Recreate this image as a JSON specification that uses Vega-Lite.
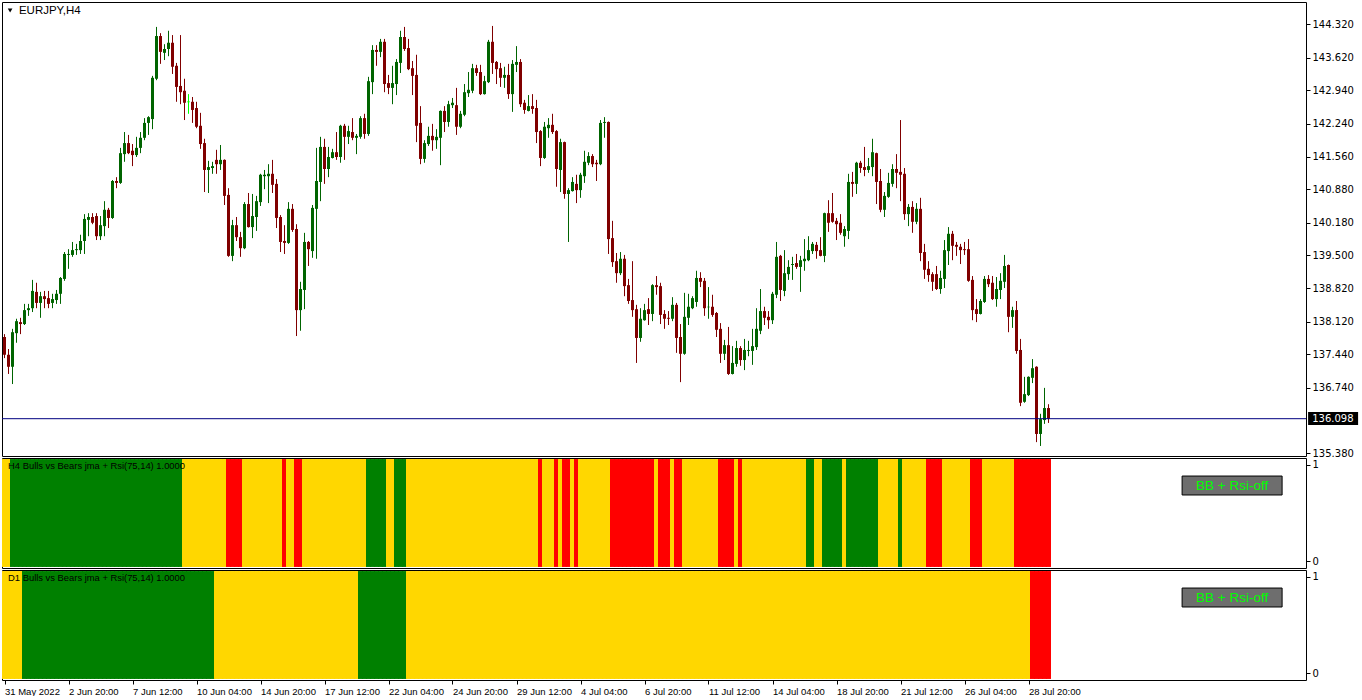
{
  "$schema": "https://vega.github.io/schema/vega-lite/v6.json",
  "background": "white",
  "padding": {"left": 1, "top": 1, "right": 0, "bottom": 0},
  "autosize": {"type": "pad"},
  "bounds": "flush",
  "spacing": 2,
  "config": {
    "view": {"stroke": "#000000", "strokeWidth": 1},
    "axis": {"labelFont": "DejaVu Sans", "labelFontSize": 10, "labelColor": "#000000", "tickColor": "#000000", "domain": false, "grid": false, "title": null, "tickSize": 4, "labelPadding": 2, "labelOverlap": false, "labelBound": false, "labelFlush": false, "tickCount": 40}
  },
  "data": {"values": [
{"i":0,"o":137.80,"h":137.86,"l":137.36,"c":137.43,"h4":"flat","d1":"flat"},
{"i":1,"o":137.43,"h":137.55,"l":137.03,"c":137.18,"h4":"flat","d1":"flat"},
{"i":2,"o":137.18,"h":137.97,"l":136.82,"c":137.90,"h4":"bull","d1":"flat"},
{"i":3,"o":137.88,"h":138.18,"l":137.68,"c":138.13,"h4":"bull","d1":"flat"},
{"i":4,"o":138.11,"h":138.20,"l":137.86,"c":138.07,"h4":"bull","d1":"flat"},
{"i":5,"o":138.07,"h":138.49,"l":138.05,"c":138.36,"h4":"bull","d1":"bull"},
{"i":6,"o":138.36,"h":138.49,"l":138.24,"c":138.40,"h4":"bull","d1":"bull"},
{"i":7,"o":138.40,"h":138.99,"l":138.32,"c":138.76,"h4":"bull","d1":"bull"},
{"i":8,"o":138.74,"h":138.93,"l":138.40,"c":138.51,"h4":"bull","d1":"bull"},
{"i":9,"o":138.51,"h":138.74,"l":138.20,"c":138.65,"h4":"bull","d1":"bull"},
{"i":10,"o":138.65,"h":138.76,"l":138.40,"c":138.59,"h4":"bull","d1":"bull"},
{"i":11,"o":138.61,"h":138.76,"l":138.40,"c":138.49,"h4":"bull","d1":"bull"},
{"i":12,"o":138.51,"h":138.70,"l":138.40,"c":138.59,"h4":"bull","d1":"bull"},
{"i":13,"o":138.57,"h":138.78,"l":138.49,"c":138.70,"h4":"bull","d1":"bull"},
{"i":14,"o":138.70,"h":139.05,"l":138.49,"c":139.03,"h4":"bull","d1":"bull"},
{"i":15,"o":139.01,"h":139.57,"l":138.97,"c":139.53,"h4":"bull","d1":"bull"},
{"i":16,"o":139.51,"h":139.63,"l":139.22,"c":139.53,"h4":"bull","d1":"bull"},
{"i":17,"o":139.51,"h":139.78,"l":139.47,"c":139.61,"h4":"bull","d1":"bull"},
{"i":18,"o":139.61,"h":139.74,"l":139.51,"c":139.63,"h4":"bull","d1":"bull"},
{"i":19,"o":139.61,"h":139.93,"l":139.53,"c":139.80,"h4":"bull","d1":"bull"},
{"i":20,"o":139.80,"h":140.36,"l":139.53,"c":140.26,"h4":"bull","d1":"bull"},
{"i":21,"o":140.24,"h":140.38,"l":139.90,"c":140.30,"h4":"bull","d1":"bull"},
{"i":22,"o":140.30,"h":140.38,"l":140.15,"c":140.18,"h4":"bull","d1":"bull"},
{"i":23,"o":140.32,"h":140.38,"l":139.82,"c":139.90,"h4":"bull","d1":"bull"},
{"i":24,"o":139.90,"h":140.32,"l":139.82,"c":140.13,"h4":"bull","d1":"bull"},
{"i":25,"o":140.11,"h":140.63,"l":139.90,"c":140.45,"h4":"bull","d1":"bull"},
{"i":26,"o":140.45,"h":140.49,"l":140.07,"c":140.28,"h4":"bull","d1":"bull"},
{"i":27,"o":140.28,"h":141.07,"l":140.26,"c":141.05,"h4":"bull","d1":"bull"},
{"i":28,"o":141.05,"h":141.13,"l":140.90,"c":141.01,"h4":"bull","d1":"bull"},
{"i":29,"o":141.01,"h":141.74,"l":140.99,"c":141.63,"h4":"bull","d1":"bull"},
{"i":30,"o":141.61,"h":142.07,"l":141.45,"c":141.84,"h4":"bull","d1":"bull"},
{"i":31,"o":141.84,"h":142.01,"l":141.61,"c":141.63,"h4":"bull","d1":"bull"},
{"i":32,"o":141.68,"h":141.82,"l":141.36,"c":141.59,"h4":"bull","d1":"bull"},
{"i":33,"o":141.59,"h":141.97,"l":141.55,"c":141.74,"h4":"bull","d1":"bull"},
{"i":34,"o":141.74,"h":142.07,"l":141.63,"c":141.95,"h4":"bull","d1":"bull"},
{"i":35,"o":141.95,"h":142.36,"l":141.90,"c":142.26,"h4":"bull","d1":"bull"},
{"i":36,"o":142.26,"h":142.40,"l":142.01,"c":142.38,"h4":"bull","d1":"bull"},
{"i":37,"o":142.34,"h":143.24,"l":142.13,"c":143.20,"h4":"bull","d1":"bull"},
{"i":38,"o":143.18,"h":144.26,"l":143.15,"c":144.07,"h4":"bull","d1":"bull"},
{"i":39,"o":144.07,"h":144.13,"l":143.49,"c":143.74,"h4":"bull","d1":"bull"},
{"i":40,"o":143.72,"h":143.90,"l":143.57,"c":143.80,"h4":"bull","d1":"bull"},
{"i":41,"o":143.80,"h":144.18,"l":143.65,"c":143.93,"h4":"bull","d1":"bull"},
{"i":42,"o":143.93,"h":144.09,"l":143.28,"c":143.43,"h4":"bull","d1":"bull"},
{"i":43,"o":143.45,"h":143.51,"l":142.70,"c":143.01,"h4":"bull","d1":"bull"},
{"i":44,"o":143.03,"h":144.09,"l":142.65,"c":142.90,"h4":"bull","d1":"bull"},
{"i":45,"o":142.93,"h":143.18,"l":142.32,"c":142.68,"h4":"flat","d1":"bull"},
{"i":46,"o":142.70,"h":142.86,"l":142.45,"c":142.70,"h4":"flat","d1":"bull"},
{"i":47,"o":142.70,"h":142.80,"l":142.26,"c":142.53,"h4":"flat","d1":"bull"},
{"i":48,"o":142.57,"h":142.70,"l":142.15,"c":142.18,"h4":"flat","d1":"bull"},
{"i":49,"o":142.20,"h":142.47,"l":141.72,"c":141.82,"h4":"flat","d1":"bull"},
{"i":50,"o":141.84,"h":141.93,"l":140.82,"c":141.28,"h4":"flat","d1":"bull"},
{"i":51,"o":141.28,"h":141.47,"l":140.80,"c":141.34,"h4":"flat","d1":"bull"},
{"i":52,"o":141.32,"h":141.45,"l":141.20,"c":141.36,"h4":"flat","d1":"bull"},
{"i":53,"o":141.49,"h":141.70,"l":141.20,"c":141.40,"h4":"flat","d1":"flat"},
{"i":54,"o":141.40,"h":141.80,"l":141.28,"c":141.49,"h4":"flat","d1":"flat"},
{"i":55,"o":141.49,"h":141.50,"l":140.55,"c":140.74,"h4":"flat","d1":"flat"},
{"i":56,"o":140.76,"h":140.90,"l":139.47,"c":139.49,"h4":"bear","d1":"flat"},
{"i":57,"o":139.49,"h":140.24,"l":139.38,"c":140.13,"h4":"bear","d1":"flat"},
{"i":58,"o":140.13,"h":140.30,"l":139.80,"c":139.88,"h4":"bear","d1":"flat"},
{"i":59,"o":139.88,"h":139.99,"l":139.47,"c":139.65,"h4":"bear","d1":"flat"},
{"i":60,"o":139.65,"h":140.61,"l":139.63,"c":140.57,"h4":"flat","d1":"flat"},
{"i":61,"o":140.57,"h":140.80,"l":140.08,"c":140.09,"h4":"flat","d1":"flat"},
{"i":62,"o":140.09,"h":140.78,"l":139.86,"c":140.32,"h4":"flat","d1":"flat"},
{"i":63,"o":140.30,"h":140.74,"l":140.01,"c":140.63,"h4":"flat","d1":"flat"},
{"i":64,"o":140.61,"h":141.20,"l":140.53,"c":141.18,"h4":"flat","d1":"flat"},
{"i":65,"o":141.15,"h":141.28,"l":140.88,"c":141.18,"h4":"flat","d1":"flat"},
{"i":66,"o":141.15,"h":141.40,"l":140.59,"c":141.20,"h4":"flat","d1":"flat"},
{"i":67,"o":141.20,"h":141.49,"l":140.80,"c":140.97,"h4":"flat","d1":"flat"},
{"i":68,"o":140.99,"h":141.09,"l":140.07,"c":140.28,"h4":"flat","d1":"flat"},
{"i":69,"o":140.30,"h":140.34,"l":139.57,"c":139.78,"h4":"flat","d1":"flat"},
{"i":70,"o":139.80,"h":140.13,"l":139.53,"c":139.76,"h4":"bear","d1":"flat"},
{"i":71,"o":139.76,"h":140.61,"l":139.74,"c":140.47,"h4":"flat","d1":"flat"},
{"i":72,"o":140.47,"h":140.57,"l":139.99,"c":140.03,"h4":"flat","d1":"flat"},
{"i":73,"o":140.05,"h":140.15,"l":137.82,"c":138.36,"h4":"bear","d1":"flat"},
{"i":74,"o":138.36,"h":138.95,"l":137.93,"c":138.80,"h4":"bear","d1":"flat"},
{"i":75,"o":138.78,"h":139.97,"l":138.38,"c":139.78,"h4":"flat","d1":"flat"},
{"i":76,"o":139.78,"h":139.80,"l":139.28,"c":139.63,"h4":"flat","d1":"flat"},
{"i":77,"o":139.59,"h":140.55,"l":139.45,"c":140.49,"h4":"flat","d1":"flat"},
{"i":78,"o":140.47,"h":141.74,"l":139.43,"c":141.05,"h4":"flat","d1":"flat"},
{"i":79,"o":141.03,"h":141.97,"l":140.63,"c":141.76,"h4":"flat","d1":"flat"},
{"i":80,"o":141.76,"h":141.93,"l":140.99,"c":141.30,"h4":"flat","d1":"flat"},
{"i":81,"o":141.30,"h":141.76,"l":141.13,"c":141.55,"h4":"flat","d1":"flat"},
{"i":82,"o":141.53,"h":141.72,"l":141.52,"c":141.65,"h4":"flat","d1":"flat"},
{"i":83,"o":141.65,"h":142.07,"l":141.49,"c":141.55,"h4":"flat","d1":"flat"},
{"i":84,"o":141.55,"h":142.22,"l":141.43,"c":142.20,"h4":"flat","d1":"flat"},
{"i":85,"o":142.20,"h":142.24,"l":141.49,"c":141.97,"h4":"flat","d1":"flat"},
{"i":86,"o":141.97,"h":142.20,"l":141.82,"c":142.09,"h4":"flat","d1":"flat"},
{"i":87,"o":142.07,"h":142.36,"l":141.90,"c":141.95,"h4":"flat","d1":"flat"},
{"i":88,"o":141.95,"h":142.03,"l":141.61,"c":141.99,"h4":"flat","d1":"flat"},
{"i":89,"o":141.97,"h":142.40,"l":141.93,"c":142.36,"h4":"flat","d1":"bull"},
{"i":90,"o":142.36,"h":142.45,"l":141.93,"c":142.03,"h4":"flat","d1":"bull"},
{"i":91,"o":142.03,"h":143.22,"l":141.99,"c":143.13,"h4":"bull","d1":"bull"},
{"i":92,"o":143.11,"h":143.88,"l":142.86,"c":143.78,"h4":"bull","d1":"bull"},
{"i":93,"o":143.78,"h":143.88,"l":143.45,"c":143.74,"h4":"bull","d1":"bull"},
{"i":94,"o":143.74,"h":144.01,"l":143.63,"c":143.95,"h4":"bull","d1":"bull"},
{"i":95,"o":143.95,"h":144.01,"l":142.90,"c":143.07,"h4":"bull","d1":"bull"},
{"i":96,"o":143.09,"h":143.26,"l":142.86,"c":142.99,"h4":"flat","d1":"bull"},
{"i":97,"o":142.99,"h":143.45,"l":142.65,"c":143.09,"h4":"flat","d1":"bull"},
{"i":98,"o":143.07,"h":143.59,"l":142.84,"c":143.53,"h4":"bull","d1":"bull"},
{"i":99,"o":143.51,"h":144.18,"l":143.30,"c":144.05,"h4":"bull","d1":"bull"},
{"i":100,"o":144.05,"h":144.26,"l":143.76,"c":143.80,"h4":"bull","d1":"bull"},
{"i":101,"o":143.82,"h":144.01,"l":143.36,"c":143.38,"h4":"flat","d1":"flat"},
{"i":102,"o":143.40,"h":143.55,"l":142.84,"c":143.24,"h4":"flat","d1":"flat"},
{"i":103,"o":143.26,"h":143.68,"l":141.86,"c":142.20,"h4":"flat","d1":"flat"},
{"i":104,"o":142.26,"h":142.61,"l":141.40,"c":141.51,"h4":"flat","d1":"flat"},
{"i":105,"o":141.51,"h":141.90,"l":141.43,"c":141.84,"h4":"flat","d1":"flat"},
{"i":106,"o":141.82,"h":142.18,"l":141.78,"c":141.99,"h4":"flat","d1":"flat"},
{"i":107,"o":141.99,"h":142.24,"l":141.68,"c":141.90,"h4":"flat","d1":"flat"},
{"i":108,"o":141.90,"h":142.13,"l":141.72,"c":141.97,"h4":"flat","d1":"flat"},
{"i":109,"o":141.95,"h":142.52,"l":141.38,"c":142.51,"h4":"flat","d1":"flat"},
{"i":110,"o":142.51,"h":142.61,"l":142.07,"c":142.28,"h4":"flat","d1":"flat"},
{"i":111,"o":142.28,"h":142.72,"l":142.18,"c":142.65,"h4":"flat","d1":"flat"},
{"i":112,"o":142.63,"h":142.78,"l":142.57,"c":142.68,"h4":"flat","d1":"flat"},
{"i":113,"o":142.63,"h":142.99,"l":142.01,"c":142.18,"h4":"flat","d1":"flat"},
{"i":114,"o":142.18,"h":142.51,"l":142.15,"c":142.45,"h4":"flat","d1":"flat"},
{"i":115,"o":142.43,"h":143.07,"l":142.40,"c":142.90,"h4":"flat","d1":"flat"},
{"i":116,"o":142.88,"h":143.32,"l":142.80,"c":142.95,"h4":"flat","d1":"flat"},
{"i":117,"o":142.93,"h":143.49,"l":142.88,"c":143.40,"h4":"flat","d1":"flat"},
{"i":118,"o":143.40,"h":143.47,"l":143.24,"c":143.30,"h4":"flat","d1":"flat"},
{"i":119,"o":143.32,"h":143.47,"l":142.84,"c":142.86,"h4":"flat","d1":"flat"},
{"i":120,"o":142.86,"h":143.24,"l":142.85,"c":143.13,"h4":"flat","d1":"flat"},
{"i":121,"o":143.11,"h":143.99,"l":143.09,"c":143.95,"h4":"flat","d1":"flat"},
{"i":122,"o":143.95,"h":144.28,"l":143.28,"c":143.51,"h4":"flat","d1":"flat"},
{"i":123,"o":143.53,"h":143.55,"l":143.07,"c":143.38,"h4":"flat","d1":"flat"},
{"i":124,"o":143.40,"h":143.51,"l":143.01,"c":143.20,"h4":"flat","d1":"flat"},
{"i":125,"o":143.20,"h":143.43,"l":142.99,"c":143.26,"h4":"flat","d1":"flat"},
{"i":126,"o":143.26,"h":143.49,"l":142.76,"c":142.86,"h4":"flat","d1":"flat"},
{"i":127,"o":142.86,"h":143.57,"l":142.49,"c":143.49,"h4":"flat","d1":"flat"},
{"i":128,"o":143.47,"h":143.86,"l":143.32,"c":143.53,"h4":"flat","d1":"flat"},
{"i":129,"o":143.53,"h":143.59,"l":142.59,"c":142.65,"h4":"flat","d1":"flat"},
{"i":130,"o":142.68,"h":142.74,"l":142.45,"c":142.53,"h4":"flat","d1":"flat"},
{"i":131,"o":142.51,"h":142.84,"l":142.50,"c":142.61,"h4":"flat","d1":"flat"},
{"i":132,"o":142.61,"h":142.86,"l":142.45,"c":142.55,"h4":"flat","d1":"flat"},
{"i":133,"o":142.57,"h":142.74,"l":141.84,"c":142.07,"h4":"flat","d1":"flat"},
{"i":134,"o":142.09,"h":142.11,"l":141.36,"c":141.53,"h4":"bear","d1":"flat"},
{"i":135,"o":141.53,"h":142.28,"l":141.51,"c":142.18,"h4":"flat","d1":"flat"},
{"i":136,"o":142.15,"h":142.36,"l":141.95,"c":142.22,"h4":"flat","d1":"flat"},
{"i":137,"o":142.22,"h":142.45,"l":142.03,"c":142.07,"h4":"flat","d1":"flat"},
{"i":138,"o":142.09,"h":142.11,"l":140.93,"c":141.30,"h4":"bear","d1":"flat"},
{"i":139,"o":141.28,"h":141.93,"l":140.82,"c":141.86,"h4":"flat","d1":"flat"},
{"i":140,"o":141.86,"h":141.87,"l":140.68,"c":140.78,"h4":"bear","d1":"flat"},
{"i":141,"o":140.78,"h":140.90,"l":139.78,"c":140.86,"h4":"bear","d1":"flat"},
{"i":142,"o":140.84,"h":141.13,"l":140.83,"c":141.03,"h4":"flat","d1":"flat"},
{"i":143,"o":140.99,"h":141.18,"l":140.59,"c":140.86,"h4":"bear","d1":"flat"},
{"i":144,"o":140.86,"h":141.22,"l":140.70,"c":141.18,"h4":"flat","d1":"flat"},
{"i":145,"o":141.15,"h":141.68,"l":141.01,"c":141.45,"h4":"flat","d1":"flat"},
{"i":146,"o":141.43,"h":141.65,"l":141.38,"c":141.57,"h4":"flat","d1":"flat"},
{"i":147,"o":141.57,"h":141.61,"l":141.34,"c":141.40,"h4":"flat","d1":"flat"},
{"i":148,"o":141.43,"h":141.49,"l":141.05,"c":141.40,"h4":"flat","d1":"flat"},
{"i":149,"o":141.40,"h":142.32,"l":141.38,"c":142.26,"h4":"flat","d1":"flat"},
{"i":150,"o":142.26,"h":142.38,"l":141.95,"c":142.28,"h4":"flat","d1":"flat"},
{"i":151,"o":142.28,"h":142.29,"l":139.53,"c":139.84,"h4":"flat","d1":"flat"},
{"i":152,"o":139.86,"h":140.22,"l":139.26,"c":139.36,"h4":"bear","d1":"flat"},
{"i":153,"o":139.38,"h":139.55,"l":138.93,"c":139.13,"h4":"bear","d1":"flat"},
{"i":154,"o":139.13,"h":139.57,"l":139.09,"c":139.43,"h4":"bear","d1":"flat"},
{"i":155,"o":139.43,"h":139.51,"l":138.65,"c":138.86,"h4":"bear","d1":"flat"},
{"i":156,"o":138.88,"h":139.01,"l":138.49,"c":138.55,"h4":"bear","d1":"flat"},
{"i":157,"o":138.57,"h":139.38,"l":138.22,"c":138.36,"h4":"bear","d1":"flat"},
{"i":158,"o":138.38,"h":138.47,"l":137.26,"c":137.78,"h4":"bear","d1":"flat"},
{"i":159,"o":137.78,"h":138.40,"l":137.70,"c":138.18,"h4":"bear","d1":"flat"},
{"i":160,"o":138.15,"h":138.49,"l":138.14,"c":138.36,"h4":"bear","d1":"flat"},
{"i":161,"o":138.38,"h":138.61,"l":138.05,"c":138.28,"h4":"bear","d1":"flat"},
{"i":162,"o":138.28,"h":138.90,"l":138.13,"c":138.88,"h4":"bear","d1":"flat"},
{"i":163,"o":138.88,"h":139.07,"l":138.68,"c":138.84,"h4":"flat","d1":"flat"},
{"i":164,"o":138.86,"h":138.93,"l":138.07,"c":138.26,"h4":"bear","d1":"flat"},
{"i":165,"o":138.28,"h":138.36,"l":137.97,"c":138.18,"h4":"bear","d1":"flat"},
{"i":166,"o":138.20,"h":138.34,"l":138.05,"c":138.18,"h4":"bear","d1":"flat"},
{"i":167,"o":138.18,"h":138.63,"l":138.13,"c":138.47,"h4":"flat","d1":"flat"},
{"i":168,"o":138.47,"h":138.51,"l":137.47,"c":137.78,"h4":"bear","d1":"flat"},
{"i":169,"o":137.80,"h":138.07,"l":136.86,"c":137.45,"h4":"bear","d1":"flat"},
{"i":170,"o":137.45,"h":138.72,"l":137.43,"c":138.22,"h4":"flat","d1":"flat"},
{"i":171,"o":138.20,"h":138.70,"l":138.05,"c":138.43,"h4":"flat","d1":"flat"},
{"i":172,"o":138.40,"h":138.65,"l":138.38,"c":138.61,"h4":"flat","d1":"flat"},
{"i":173,"o":138.53,"h":139.18,"l":138.43,"c":139.03,"h4":"flat","d1":"flat"},
{"i":174,"o":139.03,"h":139.15,"l":138.84,"c":138.95,"h4":"flat","d1":"flat"},
{"i":175,"o":138.97,"h":139.03,"l":138.24,"c":138.40,"h4":"flat","d1":"flat"},
{"i":176,"o":138.42,"h":138.84,"l":138.18,"c":138.43,"h4":"flat","d1":"flat"},
{"i":177,"o":138.43,"h":138.68,"l":138.22,"c":138.26,"h4":"flat","d1":"flat"},
{"i":178,"o":138.30,"h":138.32,"l":137.80,"c":137.95,"h4":"flat","d1":"flat"},
{"i":179,"o":137.97,"h":138.09,"l":137.26,"c":137.45,"h4":"bear","d1":"flat"},
{"i":180,"o":137.45,"h":137.74,"l":137.32,"c":137.63,"h4":"bear","d1":"flat"},
{"i":181,"o":137.63,"h":138.01,"l":137.01,"c":137.03,"h4":"bear","d1":"flat"},
{"i":182,"o":137.03,"h":137.61,"l":137.02,"c":137.26,"h4":"bear","d1":"flat"},
{"i":183,"o":137.24,"h":137.72,"l":137.18,"c":137.57,"h4":"flat","d1":"flat"},
{"i":184,"o":137.57,"h":137.61,"l":137.20,"c":137.32,"h4":"bear","d1":"flat"},
{"i":185,"o":137.32,"h":137.76,"l":137.11,"c":137.53,"h4":"flat","d1":"flat"},
{"i":186,"o":137.51,"h":137.72,"l":137.40,"c":137.53,"h4":"flat","d1":"flat"},
{"i":187,"o":137.51,"h":137.97,"l":137.22,"c":137.61,"h4":"flat","d1":"flat"},
{"i":188,"o":137.59,"h":138.40,"l":137.53,"c":137.97,"h4":"flat","d1":"flat"},
{"i":189,"o":137.93,"h":138.80,"l":137.86,"c":138.34,"h4":"flat","d1":"flat"},
{"i":190,"o":138.34,"h":138.43,"l":138.05,"c":138.20,"h4":"flat","d1":"flat"},
{"i":191,"o":138.22,"h":138.34,"l":137.97,"c":138.15,"h4":"flat","d1":"flat"},
{"i":192,"o":138.15,"h":138.74,"l":138.07,"c":138.70,"h4":"flat","d1":"flat"},
{"i":193,"o":138.68,"h":139.78,"l":138.61,"c":139.47,"h4":"flat","d1":"flat"},
{"i":194,"o":139.49,"h":139.51,"l":138.55,"c":138.78,"h4":"flat","d1":"flat"},
{"i":195,"o":138.76,"h":139.61,"l":138.65,"c":139.13,"h4":"flat","d1":"flat"},
{"i":196,"o":139.11,"h":139.40,"l":138.99,"c":139.26,"h4":"flat","d1":"flat"},
{"i":197,"o":139.30,"h":139.47,"l":138.99,"c":139.32,"h4":"flat","d1":"flat"},
{"i":198,"o":139.34,"h":139.53,"l":139.22,"c":139.26,"h4":"flat","d1":"flat"},
{"i":199,"o":139.26,"h":139.49,"l":138.74,"c":139.40,"h4":"flat","d1":"flat"},
{"i":200,"o":139.38,"h":139.84,"l":139.18,"c":139.43,"h4":"flat","d1":"flat"},
{"i":201,"o":139.40,"h":139.90,"l":139.38,"c":139.61,"h4":"bull","d1":"flat"},
{"i":202,"o":139.59,"h":139.78,"l":139.53,"c":139.74,"h4":"bull","d1":"flat"},
{"i":203,"o":139.72,"h":139.78,"l":139.43,"c":139.59,"h4":"flat","d1":"flat"},
{"i":204,"o":139.61,"h":139.88,"l":139.48,"c":139.49,"h4":"flat","d1":"flat"},
{"i":205,"o":139.49,"h":140.39,"l":139.36,"c":140.38,"h4":"bull","d1":"flat"},
{"i":206,"o":140.38,"h":140.65,"l":139.99,"c":140.18,"h4":"bull","d1":"flat"},
{"i":207,"o":140.38,"h":140.80,"l":140.18,"c":140.20,"h4":"bull","d1":"flat"},
{"i":208,"o":140.22,"h":140.28,"l":139.82,"c":140.15,"h4":"bull","d1":"flat"},
{"i":209,"o":140.18,"h":140.36,"l":139.93,"c":139.97,"h4":"bull","d1":"flat"},
{"i":210,"o":139.90,"h":140.11,"l":139.68,"c":140.05,"h4":"flat","d1":"flat"},
{"i":211,"o":140.01,"h":141.20,"l":139.84,"c":141.03,"h4":"bull","d1":"flat"},
{"i":212,"o":141.03,"h":141.24,"l":140.72,"c":140.99,"h4":"bull","d1":"flat"},
{"i":213,"o":140.99,"h":141.45,"l":140.78,"c":141.43,"h4":"bull","d1":"flat"},
{"i":214,"o":141.43,"h":141.47,"l":141.22,"c":141.32,"h4":"bull","d1":"flat"},
{"i":215,"o":141.34,"h":141.76,"l":141.15,"c":141.28,"h4":"bull","d1":"flat"},
{"i":216,"o":141.28,"h":141.53,"l":141.22,"c":141.36,"h4":"bull","d1":"flat"},
{"i":217,"o":141.34,"h":141.93,"l":141.15,"c":141.65,"h4":"bull","d1":"flat"},
{"i":218,"o":141.63,"h":141.64,"l":140.57,"c":141.03,"h4":"bull","d1":"flat"},
{"i":219,"o":141.05,"h":141.30,"l":140.40,"c":140.45,"h4":"flat","d1":"flat"},
{"i":220,"o":140.45,"h":140.82,"l":140.30,"c":140.74,"h4":"flat","d1":"flat"},
{"i":221,"o":140.72,"h":141.22,"l":140.70,"c":141.01,"h4":"flat","d1":"flat"},
{"i":222,"o":140.99,"h":141.40,"l":140.93,"c":141.30,"h4":"flat","d1":"flat"},
{"i":223,"o":141.30,"h":141.61,"l":140.90,"c":141.22,"h4":"flat","d1":"flat"},
{"i":224,"o":141.24,"h":142.32,"l":140.63,"c":141.18,"h4":"bull","d1":"flat"},
{"i":225,"o":141.20,"h":141.32,"l":140.24,"c":140.36,"h4":"flat","d1":"flat"},
{"i":226,"o":140.36,"h":140.57,"l":140.11,"c":140.51,"h4":"flat","d1":"flat"},
{"i":227,"o":140.51,"h":140.63,"l":139.97,"c":140.20,"h4":"flat","d1":"flat"},
{"i":228,"o":140.20,"h":140.59,"l":140.15,"c":140.47,"h4":"flat","d1":"flat"},
{"i":229,"o":140.47,"h":140.70,"l":139.38,"c":139.55,"h4":"flat","d1":"flat"},
{"i":230,"o":139.57,"h":139.74,"l":139.01,"c":139.20,"h4":"flat","d1":"flat"},
{"i":231,"o":139.22,"h":139.38,"l":138.95,"c":139.09,"h4":"bear","d1":"flat"},
{"i":232,"o":139.11,"h":139.15,"l":138.76,"c":138.95,"h4":"bear","d1":"flat"},
{"i":233,"o":139.11,"h":139.28,"l":138.78,"c":138.80,"h4":"bear","d1":"flat"},
{"i":234,"o":138.80,"h":139.18,"l":138.70,"c":139.03,"h4":"bear","d1":"flat"},
{"i":235,"o":139.01,"h":139.82,"l":138.82,"c":139.61,"h4":"flat","d1":"flat"},
{"i":236,"o":139.59,"h":140.09,"l":139.30,"c":139.95,"h4":"flat","d1":"flat"},
{"i":237,"o":139.95,"h":140.01,"l":139.40,"c":139.70,"h4":"flat","d1":"flat"},
{"i":238,"o":139.72,"h":139.78,"l":139.49,"c":139.68,"h4":"flat","d1":"flat"},
{"i":239,"o":139.68,"h":139.74,"l":139.32,"c":139.61,"h4":"flat","d1":"flat"},
{"i":240,"o":139.63,"h":139.78,"l":139.51,"c":139.61,"h4":"flat","d1":"flat"},
{"i":241,"o":139.63,"h":139.84,"l":138.95,"c":138.97,"h4":"flat","d1":"flat"},
{"i":242,"o":138.99,"h":139.07,"l":138.15,"c":138.36,"h4":"bear","d1":"flat"},
{"i":243,"o":138.38,"h":138.59,"l":138.11,"c":138.28,"h4":"bear","d1":"flat"},
{"i":244,"o":138.28,"h":138.59,"l":138.27,"c":138.55,"h4":"bear","d1":"flat"},
{"i":245,"o":138.53,"h":139.07,"l":138.51,"c":139.01,"h4":"flat","d1":"flat"},
{"i":246,"o":139.01,"h":139.09,"l":138.84,"c":138.90,"h4":"flat","d1":"flat"},
{"i":247,"o":138.93,"h":139.07,"l":138.57,"c":138.59,"h4":"flat","d1":"flat"},
{"i":248,"o":138.59,"h":139.05,"l":138.43,"c":138.80,"h4":"flat","d1":"flat"},
{"i":249,"o":138.78,"h":139.13,"l":138.59,"c":138.97,"h4":"flat","d1":"flat"},
{"i":250,"o":138.95,"h":139.51,"l":138.82,"c":139.28,"h4":"flat","d1":"flat"},
{"i":251,"o":139.30,"h":139.31,"l":137.90,"c":138.22,"h4":"flat","d1":"flat"},
{"i":252,"o":138.22,"h":138.43,"l":137.99,"c":138.36,"h4":"flat","d1":"flat"},
{"i":253,"o":138.36,"h":138.55,"l":137.45,"c":137.51,"h4":"bear","d1":"flat"},
{"i":254,"o":137.53,"h":137.76,"l":136.36,"c":136.43,"h4":"bear","d1":"flat"},
{"i":255,"o":136.45,"h":136.97,"l":136.43,"c":136.61,"h4":"bear","d1":"flat"},
{"i":256,"o":136.59,"h":136.98,"l":136.57,"c":136.97,"h4":"bear","d1":"flat"},
{"i":257,"o":136.95,"h":137.34,"l":136.84,"c":137.15,"h4":"bear","d1":"bear"},
{"i":258,"o":137.18,"h":137.19,"l":135.61,"c":135.78,"h4":"bear","d1":"bear"},
{"i":259,"o":135.78,"h":136.20,"l":135.53,"c":136.09,"h4":"bear","d1":"bear"},
{"i":260,"o":136.07,"h":136.74,"l":135.99,"c":136.32,"h4":"bear","d1":"bear"},
{"i":261,"o":136.32,"h":136.40,"l":136.01,"c":136.098,"h4":"bear","d1":"bear"}
  ]},
  "vconcat": [
    {
      "width": 1304,
      "height": 454,
      "layer": [
        {
          "mark": {"type": "rule", "strokeWidth": 1},
          "encoding": {
            "x": {"field": "i", "type": "quantitative", "scale": {"domain": [-0.625, 325.375], "nice": false, "zero": false, "padding": 0}, "axis": null},
            "y": {"field": "l", "type": "quantitative", "scale": {"domain": [135.321, 144.779], "nice": false, "zero": false, "padding": 0},
                  "axis": {"orient": "right", "values": [144.32, 143.62, 142.94, 142.24, 141.56, 140.88, 140.18, 139.5, 138.82, 138.12, 137.44, 136.74, 135.38], "format": ".3f", "labelOverlap": false, "tickCount": 40}},
            "y2": {"field": "h"},
            "color": {"condition": [{"test": "datum.c == datum.o", "value": "#00ff00"}, {"test": "datum.c > datum.o", "value": "#006400"}], "value": "#800000"}
          }
        },
        {
          "mark": {"type": "bar", "size": 3},
          "encoding": {
            "x": {"field": "i", "type": "quantitative"},
            "y": {"field": "o", "type": "quantitative"},
            "y2": {"field": "c"},
            "color": {"condition": [{"test": "datum.c == datum.o", "value": "#00ff00"}, {"test": "datum.c > datum.o", "value": "#006400"}], "value": "#800000"}
          }
        },
        {
          "transform": [{"filter": "datum.c == datum.o"}],
          "mark": {"type": "tick", "thickness": 1, "size": 3, "orient": "horizontal", "color": "#00ff00"},
          "encoding": {
            "x": {"field": "i", "type": "quantitative"},
            "y": {"field": "o", "type": "quantitative"}
          }
        },
        {
          "data": {"values": [{"bid": 136.098}]},
          "mark": {"type": "rule", "color": "#000080", "strokeWidth": 1},
          "encoding": {"y": {"field": "bid", "type": "quantitative"}}
        },
        {
          "data": {"values": [{"bid": 136.098}]},
          "mark": {"type": "rect", "color": "#000000"},
          "encoding": {
            "x": {"datum": 325.9, "type": "quantitative"},
            "x2": {"datum": 338.4},
            "y": {"datum": 136.237, "type": "quantitative"},
            "y2": {"datum": 135.966}
          }
        },
        {
          "data": {"values": [{"bid": 136.098}]},
          "mark": {"type": "text", "color": "#ffffff", "font": "DejaVu Sans", "fontSize": 10, "align": "center", "baseline": "middle"},
          "encoding": {
            "x": {"datum": 332.1, "type": "quantitative"},
            "y": {"field": "bid", "type": "quantitative"},
            "text": {"field": "bid", "type": "quantitative", "format": ".3f"}
          }
        },
        {
          "data": {"values": [{"sym": "EURJPY,H4"}]},
          "mark": {"type": "point", "shape": "triangle-down", "filled": true, "color": "#000000", "size": 22, "opacity": 1},
          "encoding": {
            "x": {"datum": 1.4, "type": "quantitative"},
            "y": {"datum": 144.60, "type": "quantitative"}
          }
        },
        {
          "data": {"values": [{"sym": "EURJPY,H4"}]},
          "mark": {"type": "text", "align": "left", "baseline": "middle", "font": "Liberation Sans", "fontSize": 11.5, "color": "#000000"},
          "encoding": {
            "x": {"datum": 3.6, "type": "quantitative"},
            "y": {"datum": 144.59, "type": "quantitative"},
            "text": {"field": "sym"}
          }
        }
      ]
    },
    {
      "width": 1304,
      "height": 110,
      "layer": [
        {
          "mark": {"type": "bar", "size": 5},
          "encoding": {
            "x": {"field": "i", "type": "quantitative", "scale": {"domain": [-0.625, 325.375], "nice": false, "zero": false, "padding": 0}, "axis": null},
            "y": {"datum": 1.062, "type": "quantitative", "scale": {"domain": [-0.0729, 1.0729], "nice": false, "zero": false, "padding": 0}, "axis": {"orient": "right", "values": [0, 1], "format": "d"}},
            "y2": {"datum": -0.062},
            "color": {"field": "h4", "type": "nominal", "scale": {"domain": ["bull", "flat", "bear"], "range": ["#008000", "#ffd700", "#ff0000"]}, "legend": null}
          }
        },
        {
          "data": {"values": [{"name": "H4 Bulls vs Bears jma + Rsi(75,14) 1.0000"}]},
          "mark": {"type": "text", "align": "left", "baseline": "middle", "font": "Liberation Sans", "fontSize": 9.4, "color": "#000000"},
          "encoding": {
            "x": {"datum": 0.9, "type": "quantitative"},
            "y": {"datum": 0.985, "type": "quantitative"},
            "text": {"field": "name"}
          }
        },
        {
          "data": {"values": [{"btn": "BB + Rsi-off"}]},
          "mark": {"type": "rect", "fill": "#6e6e6e", "stroke": "#000000", "strokeWidth": 1},
          "encoding": {
            "x": {"datum": 294.4, "type": "quantitative"},
            "x2": {"datum": 319.4},
            "y": {"datum": 0.885, "type": "quantitative"},
            "y2": {"datum": 0.6875}
          }
        },
        {
          "data": {"values": [{"btn": "BB + Rsi-off"}]},
          "mark": {"type": "text", "align": "center", "baseline": "middle", "font": "Liberation Sans", "fontSize": 13.5, "color": "#00ff00"},
          "encoding": {
            "x": {"datum": 306.9, "type": "quantitative"},
            "y": {"datum": 0.786, "type": "quantitative"},
            "text": {"field": "btn"}
          }
        }
      ]
    },
    {
      "width": 1304,
      "height": 110,
      "layer": [
        {
          "mark": {"type": "bar", "size": 5},
          "encoding": {
            "x": {"field": "i", "type": "quantitative", "scale": {"domain": [-0.625, 325.375], "nice": false, "zero": false, "padding": 0},
                  "axis": {"orient": "bottom", "values": [0, 16, 32, 48, 64, 80, 96, 112, 128, 144, 160, 176, 192, 208, 224, 240, 256],
                           "labelExpr": "['31 May 2022','2 Jun 20:00','7 Jun 12:00','10 Jun 04:00','14 Jun 20:00','17 Jun 12:00','22 Jun 04:00','24 Jun 20:00','29 Jun 12:00','4 Jul 04:00','6 Jul 20:00','11 Jul 12:00','14 Jul 04:00','18 Jul 20:00','21 Jul 12:00','26 Jul 04:00','28 Jul 20:00'][round(datum.value/16)]",
                           "labelAlign": "left", "labelDx": -3, "labelFont": "Liberation Sans", "labelFontSize": 9.5, "labelOverlap": false, "labelFlush": false, "labelBound": false, "tickSize": 4, "labelPadding": 2, "tickCount": 40}},
            "y": {"datum": 1.062, "type": "quantitative", "scale": {"domain": [-0.0729, 1.0729], "nice": false, "zero": false, "padding": 0}, "axis": {"orient": "right", "values": [0, 1], "format": "d"}},
            "y2": {"datum": -0.062},
            "color": {"field": "d1", "type": "nominal", "scale": {"domain": ["bull", "flat", "bear"], "range": ["#008000", "#ffd700", "#ff0000"]}, "legend": null}
          }
        },
        {
          "data": {"values": [{"name": "D1 Bulls vs Bears jma + Rsi(75,14) 1.0000"}]},
          "mark": {"type": "text", "align": "left", "baseline": "middle", "font": "Liberation Sans", "fontSize": 9.4, "color": "#000000"},
          "encoding": {
            "x": {"datum": 0.9, "type": "quantitative"},
            "y": {"datum": 0.985, "type": "quantitative"},
            "text": {"field": "name"}
          }
        },
        {
          "data": {"values": [{"btn": "BB + Rsi-off"}]},
          "mark": {"type": "rect", "fill": "#6e6e6e", "stroke": "#000000", "strokeWidth": 1},
          "encoding": {
            "x": {"datum": 294.4, "type": "quantitative"},
            "x2": {"datum": 319.4},
            "y": {"datum": 0.885, "type": "quantitative"},
            "y2": {"datum": 0.6875}
          }
        },
        {
          "data": {"values": [{"btn": "BB + Rsi-off"}]},
          "mark": {"type": "text", "align": "center", "baseline": "middle", "font": "Liberation Sans", "fontSize": 13.5, "color": "#00ff00"},
          "encoding": {
            "x": {"datum": 306.9, "type": "quantitative"},
            "y": {"datum": 0.786, "type": "quantitative"},
            "text": {"field": "btn"}
          }
        }
      ]
    }
  ]
}
